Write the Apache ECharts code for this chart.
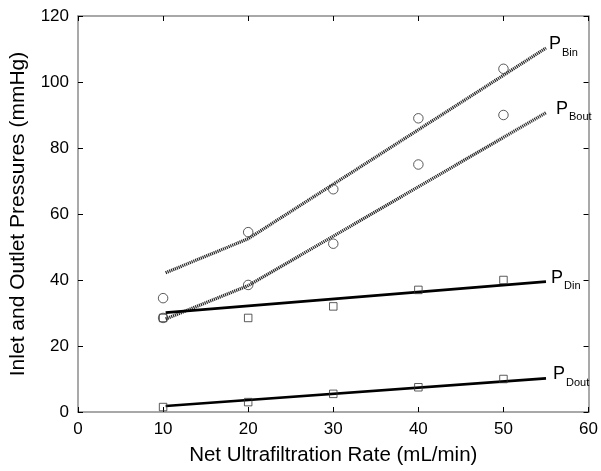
<!DOCTYPE html>
<html><head><meta charset="utf-8">
<script src="https://cdn.jsdelivr.net/npm/echarts@6/dist/echarts.min.js"></script>
<style>html,body{margin:0;padding:0;background:#fff}#c{width:601px;height:471px}</style>
</head><body><div id="c"></div>
<script>
const xTicks = [0,10,20,30,40,50,60];
const yTicks = [0,20,40,60,80,100,120];
const rates = [10,20,30,40,50];
const pBinObs = [34.5,54.5,67.5,89,104];
const pBoutObs = [28.5,38.5,51,75,90];
const pDinObs = [28.5,28.5,32,37,40];
const pDoutObs = [1.5,3,5.5,7.5,10];
const pBinFitX = [10.3,20,55];
const pBinFitY = [42.2,52.5,110.3];
const pBoutFitX = [10.3,20,55];
const pBoutFitY = [28.2,38.3,90.7];
const pDinFitX = [10.3,55];
const pDinFitY = [30.1,39.5];
const pDoutFitX = [10.3,55];
const pDoutFitY = [1.8,10.2];
const labels = [['P','Bin'],['P','Bout'],['P','Din'],['P','Dout']];

const font = 'Liberation Sans, Arial, sans-serif';
const axisCol = '#8c8c8c';
function pairs(xs, ys){ return xs.map((x,i)=>[x, ys[i]]); }
function fit(xs, ys, lab, dotted, offX){
  return {
    type:'line', data: pairs(xs, ys),
    showSymbol:false, symbol:'none', silent:true, z:3,
    lineStyle: dotted ? {color:'#2a2a2a', width:3.2, type:[1.2,0.8]} : {color:'#000', width:2.6},
    endLabel:{show:true, distance:0, offset:[offX, -5],
      formatter:'{p|'+lab[0]+'}{s|'+lab[1]+'}',
      rich:{p:{fontSize:18,fontFamily:font,color:'#000',verticalAlign:'bottom',lineHeight:20},
            s:{fontSize:11,fontFamily:font,color:'#000',verticalAlign:'bottom',lineHeight:11,padding:[0,0,-5,1]}}},
    animation:false
  };
}
function obs(ys, sym, sz){
  return {type:'scatter', data: rates.map((x,i)=>[x, ys[i]]), symbol:sym, symbolSize:sz,
    itemStyle:{color:'rgba(255,255,255,0)', borderColor:'#333', borderWidth:1}, z:4, animation:false, silent:true};
}
const chart = echarts.init(document.getElementById('c'), null, {renderer:'canvas'});
const baseAxis = {
  min:0, interval:10, splitLine:{show:false},
  axisLine:{show:true, onZero:false, lineStyle:{color:axisCol, width:1.5}},
  axisTick:{show:true, inside:true, length:5, lineStyle:{color:'#000', width:1}}
};
chart.setOption({
  animation:false,
  grid:{left:77, right:10, top:16, bottom:57, containLabel:false},
  xAxis:[
    Object.assign({}, baseAxis, {type:'value', max:60, position:'bottom',
      name:'Net Ultrafiltration Rate (mL/min)', nameLocation:'middle', nameGap:33,
      nameTextStyle:{fontSize:20.5, fontFamily:font, color:'#000'},
      axisLabel:{fontSize:17, fontFamily:font, color:'#000', margin:9}}),
    Object.assign({}, baseAxis, {type:'value', max:60, position:'top', axisLabel:{show:false}})
  ],
  yAxis:[
    Object.assign({}, baseAxis, {type:'value', max:120, interval:20, position:'left',
      name:'Inlet and Outlet Pressures (mmHg)', nameLocation:'middle', nameGap:49,
      nameTextStyle:{fontSize:21, fontFamily:font, color:'#000'},
      axisLabel:{fontSize:17, fontFamily:font, color:'#000', margin:9}}),
    Object.assign({}, baseAxis, {type:'value', max:120, interval:20, position:'right', axisLabel:{show:false}})
  ],
  series:[
    fit(pBinFitX, pBinFitY, labels[0], true, 3),
    fit(pBoutFitX, pBoutFitY, labels[1], true, 10),
    fit(pDinFitX, pDinFitY, labels[2], false, 5),
    fit(pDoutFitX, pDoutFitY, labels[3], false, 7),
    obs(pBinObs, 'circle', 9.5),
    obs(pBoutObs, 'circle', 9.5),
    obs(pDinObs, 'rect', 7.5),
    obs(pDoutObs, 'rect', 7.5)
  ]
});
</script></body></html>
